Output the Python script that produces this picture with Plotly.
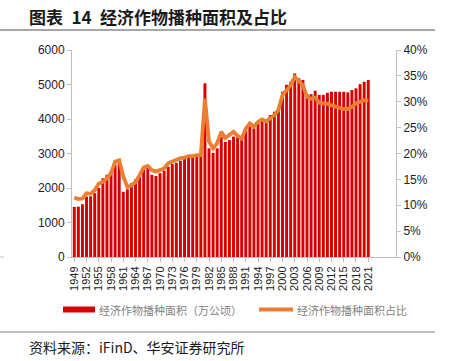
import plotly.graph_objects as go

years = list(range(1949, 2022))
area = [1450, 1460, 1530, 1750, 1760, 1850, 2000, 2280, 2380, 2470,
        2680, 2800, 1890, 1960, 2140, 2250, 2380, 2540, 2600, 2380,
        2350, 2430, 2500, 2620, 2700, 2730, 2790, 2850, 2890, 2890,
        2930, 2960, 5035, 3150, 3020, 3150, 3480, 3340, 3390, 3490,
        3470, 3470, 3680, 3780, 3730, 3875, 3950, 3920, 4115, 4210,
        4260, 4790, 4990, 5080, 5320, 5180, 5130, 4730, 4720, 4820,
        4700, 4700, 4760, 4790, 4790, 4790, 4790, 4770, 4840, 4890,
        5010, 5080, 5130]
share = [11.5, 11.2, 11.3, 12.3, 12.2, 12.9, 14.2, 14.5, 15.2, 16.2,
         18.4, 18.7, 15.6, 13.5, 13.8, 14.5, 15.8, 17.3, 17.6, 16.8,
         16.5, 16.9, 17.1, 18.1, 18.5, 18.7, 19.1, 19.2, 19.5, 19.5,
         19.7, 19.7, 30.6, 22.3, 21.0, 22.0, 24.2, 23.0, 23.5, 24.2,
         23.4, 22.9, 24.8, 25.8, 25.2, 26.1, 26.6, 26.2, 26.8, 27.4,
         28.4, 31.3, 32.2, 33.2, 34.8, 34.0, 33.2, 30.9, 30.6, 30.8,
         29.8, 29.7, 29.6, 29.3, 29.1, 28.9, 28.6, 28.6, 29.0, 29.7,
         30.1, 30.3, 30.2]
tick_years = list(range(1949, 2022, 3))
title_text = "图表\u200214\u2002经济作物播种面积及占比"
bar_name = "经济作物播种面积（万公顷）"
line_name = "经济作物播种面积占比"
source_text = "资料来源：iFinD、华安证券研究所"

FONT = "Liberation Sans, Arial, Noto Sans CJK SC"
CJK = "Noto Sans CJK SC, Liberation Sans"
BAR_C = "#D60000"
LINE_C = "#ED7D31"
AX_C = "#BFBFBF"

fig = go.Figure()
fig.add_trace(go.Bar(x=years, y=area, name=bar_name,
                     marker=dict(color=BAR_C, line=dict(width=0)), width=0.72,
                     yaxis="y"))
fig.add_trace(go.Scatter(x=years, y=[s / 100 for s in share], name=line_name,
                         mode="lines", line=dict(color=LINE_C, width=3.8),
                         yaxis="y2"))

W, H = 449, 361
L, R, T, B = 72, 396, 50, 257
PW, PH = R - L, B - T
fig.update_layout(
    width=W, height=H,
    margin=dict(l=L, r=W - R, t=T, b=H - B),
    paper_bgcolor="white", plot_bgcolor="white",
    showlegend=False,
    font=dict(family=FONT, size=12, color="#333333"),
    xaxis=dict(range=[1948.44, 2027.8], tickmode="array", tickvals=tick_years,
               ticktext=[str(y) for y in tick_years], tickangle=-90,
               tickfont=dict(size=11, color="#222222"),
               showline=True, linecolor=AX_C, linewidth=1,
               ticks="outside", ticklen=4, tickcolor=AX_C,
               showgrid=False, zeroline=False),
    yaxis=dict(range=[0, 6000], tickvals=[0, 1000, 2000, 3000, 4000, 5000, 6000],
               showline=True, linecolor=AX_C, linewidth=1,
               ticks="outside", ticklen=4, tickcolor=AX_C,
               showgrid=False, zeroline=False,
               tickfont=dict(size=12, color="#222222")),
    yaxis2=dict(range=[0, 0.4], overlaying="y", side="right",
                tickvals=[0, 0.05, 0.1, 0.15, 0.2, 0.25, 0.3, 0.35, 0.4],
                tickformat=".0%",
                showline=True, linecolor=AX_C, linewidth=1,
                ticks="outside", ticklen=4, tickcolor=AX_C,
                showgrid=False, zeroline=False,
                tickfont=dict(size=12, color="#222222")),
)

def fx(x):
    return (x - L) / PW

def fy(y):
    return (B - y) / PH

shapes = [
    dict(type="line", xref="paper", yref="paper", x0=fx(0), x1=fx(435),
         y0=fy(30), y1=fy(30), line=dict(color="#A6A6A6", width=2)),
    dict(type="line", xref="paper", yref="paper", x0=fx(0), x1=fx(435),
         y0=fy(332), y1=fy(332), line=dict(color="#808080", width=1)),
    dict(type="line", xref="paper", yref="paper", x0=fx(0), x1=fx(4),
         y0=fy(257), y1=fy(257), line=dict(color="#BFBFBF", width=1)),
    dict(type="rect", xref="paper", yref="paper", x0=fx(63), x1=fx(95),
         y0=fy(312.5), y1=fy(306.5), fillcolor=BAR_C, line=dict(width=0)),
    dict(type="line", xref="paper", yref="paper", x0=fx(259), x1=fx(293),
         y0=fy(309.5), y1=fy(309.5), line=dict(color=LINE_C, width=3.8)),
]

annotations = [
    dict(text="<b>" + title_text + "</b>", xref="paper", yref="paper",
         x=fx(27), y=fy(16.5), xanchor="left", yanchor="middle",
         showarrow=False, font=dict(family=CJK, size=17, color="#1a1a1a")),
    dict(text=bar_name, xref="paper", yref="paper",
         x=fx(97), y=fy(309.5), xanchor="left", yanchor="middle",
         showarrow=False, font=dict(family=CJK, size=11, color="#7f7f7f")),
    dict(text=line_name, xref="paper", yref="paper",
         x=fx(295), y=fy(309.5), xanchor="left", yanchor="middle",
         showarrow=False, font=dict(family=CJK, size=11, color="#7f7f7f")),
    dict(text=source_text, xref="paper", yref="paper",
         x=fx(27), y=fy(347), xanchor="left", yanchor="middle",
         showarrow=False, font=dict(family=CJK, size=14, color="#1a1a1a")),
]
fig.update_layout(shapes=shapes, annotations=annotations)

fig.write_html("out.html", config={"displayModeBar": False},
               post_script="document.body.style.margin='0';")
